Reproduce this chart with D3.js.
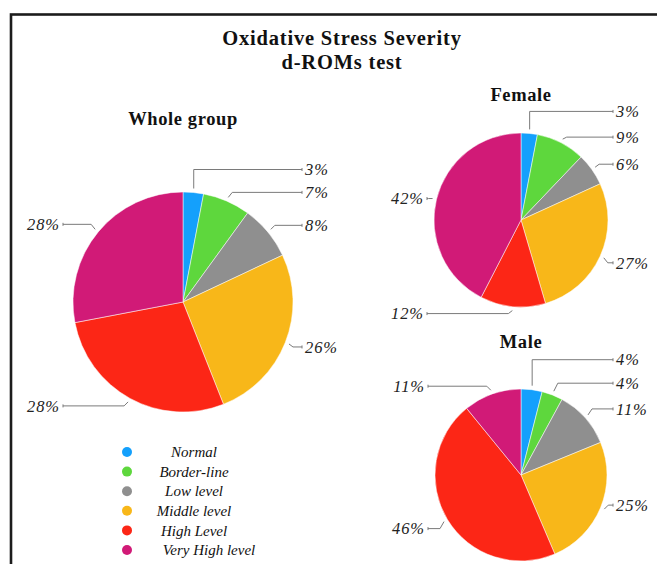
<!DOCTYPE html>
<html><head><meta charset="utf-8">
<script src="https://cdn.jsdelivr.net/npm/d3@7"></script>
<style>body{margin:0;background:#fff;overflow:hidden}</style>
</head><body>
<svg id="c" width="657" height="564"></svg>
<script>
// ---- data ----
const categories = ["Normal", "Border-line", "Low level", "Middle level", "High Level", "Very High level"];
const wholeValues = [3, 7, 8, 26, 28, 28];
const femaleValues = [3, 9, 6, 27, 12, 42];
const maleValues = [4, 4, 11, 25, 46, 11];
const titleLines = ["Oxidative Stress Severity", "d-ROMs test"];
const panelTitles = ["Whole group", "Female", "Male"];

// ---- styles / layout ----
const colors = ["#14a0fc", "#5ed73d", "#8f8f8f", "#f8b719", "#fc2616", "#d11a77"];
const serif = "'Liberation Serif', 'DejaVu Serif', serif";
const panels = [
  {values: wholeValues, title: panelTitles[0], cx: 183, cy: 302, r: 110, titleY: 125, rightX: 302, leftX: 63, dy: [-19, -5, -4, 3, 4, -5]},
  {values: femaleValues, title: panelTitles[1], cx: 521, cy: 220, r: 87, titleY: 101, rightX: 613, leftX: 427, dy: [-18, -2, -3, 5, 3, 0]},
  {values: maleValues, title: panelTitles[2], cx: 521, cy: 475, r: 86, titleY: 348, rightX: 613, leftX: 428, dy: [-26, -8, -6, -4, 7, -4]}
];

const svg = d3.select("#c");
const color = d3.scaleOrdinal().domain(categories).range(colors);

// frame (cropped)
svg.append("rect").attr("x", 11).attr("y", 14.5).attr("width", 700).attr("height", 600)
  .attr("fill", "none").attr("stroke", "#1c1c1c").attr("stroke-width", 2.6);

// titles
svg.append("g").selectAll("text").data(titleLines).join("text")
  .attr("x", 342).attr("y", (d, i) => 45 + i * 23.5)
  .attr("text-anchor", "middle").attr("font-family", serif)
  .attr("font-weight", "bold").attr("font-size", 20.5).attr("letter-spacing", 0.8)
  .attr("fill", "#111").text(d => d);

const pie = d3.pie().sort(null).value(d => d);

panels.forEach(p => {
  const g = svg.append("g");
  g.append("text").attr("x", p.cx).attr("y", p.titleY).attr("text-anchor", "middle")
    .attr("font-family", serif).attr("font-weight", "bold").attr("font-size", 18.5)
    .attr("letter-spacing", 0.6).attr("fill", "#111").text(p.title);

  const arcs = pie(p.values);
  const arc = d3.arc().innerRadius(0).outerRadius(p.r);
  const pg = g.append("g").attr("transform", `translate(${p.cx},${p.cy})`);
  pg.selectAll("path").data(arcs).join("path")
    .attr("d", arc).attr("fill", (d, i) => color(categories[i]))
    .attr("stroke", "#fff").attr("stroke-width", 0.5);

  arcs.forEach((a, i) => {
    const mid = (a.startAngle + a.endAngle) / 2;
    const right = mid < Math.PI;
    const s = right ? 1 : -1;
    const R = p.r + 4;
    const ax = p.cx + R * Math.sin(mid);
    const ay = p.cy - R * Math.cos(mid);
    const ly = ay + p.dy[i];
    const ex = right ? p.rightX : p.leftX;
    const elx = Math.abs(ly - ay) > 10 ? ax : ax + s * 4;
    const path = d3.path();
    path.moveTo(ax, ay);
    path.lineTo(elx, ly);
    path.lineTo(ex, ly);
    g.append("path").attr("d", path.toString()).attr("fill", "none")
      .attr("stroke", "#7a7a7a").attr("stroke-width", 1);
    g.append("line").attr("x1", ex).attr("x2", ex).attr("y1", ly - 1.5).attr("y2", ly + 1.5)
      .attr("stroke", "#7a7a7a").attr("stroke-width", 1);
    g.append("text").attr("x", ex + s * 3).attr("y", ly).attr("dy", "0.35em")
      .attr("text-anchor", right ? "start" : "end")
      .attr("font-family", serif).attr("font-style", "italic").attr("font-size", 16.5)
      .attr("letter-spacing", 0.9).attr("fill", "#222").text(p.values[i] + "%");
  });
});

// legend
const lg = svg.append("g");
const items = lg.selectAll("g").data(categories).join("g")
  .attr("transform", (d, i) => `translate(0,${452 + i * 19.6})`);
items.append("circle").attr("cx", 127).attr("cy", 0).attr("r", 5).attr("fill", d => color(d));
items.append("text").attr("x", (d, i) => i === categories.length - 1 ? 209 : 194).attr("y", 0).attr("dy", "0.35em")
  .attr("text-anchor", "middle").attr("font-family", serif).attr("font-style", "italic")
  .attr("font-size", 15).attr("fill", "#111").text(d => d);
</script>
</body></html>
